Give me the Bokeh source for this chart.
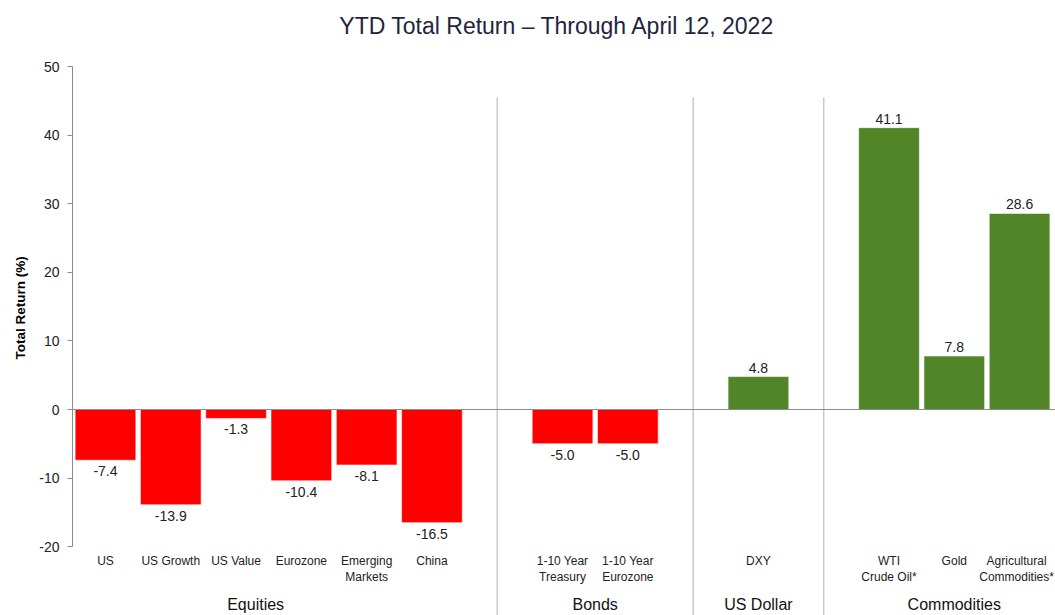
from bokeh.plotting import figure
from bokeh.models import ColumnDataSource, Span, Range1d, FixedTicker, Label, PrintfTickFormatter
from bokeh.core.properties import value
from bokeh.embed import file_html
from bokeh.resources import INLINE

# ---- data ----
groups = ["Equities", "Bonds", "US Dollar", "Commodities"]
group_cats = [
    ["US", "US Growth", "US Value", "Eurozone", "Emerging\nMarkets", "China"],
    ["1-10 Year\nTreasury", "1-10 Year\nEurozone"],
    ["DXY"],
    ["WTI\nCrude Oil*", "Gold", "Agricultural\nCommodities*"],
]
group_values = [
    [-7.4, -13.9, -1.3, -10.4, -8.1, -16.5],
    [-5.0, -5.0],
    [4.8],
    [41.1, 7.8, 28.6],
]
y_ticks = [-20, -10, 0, 10, 20, 30, 40, 50]
title_text = "YTD Total Return \u2013 Through April 12, 2022"

FONT = "Liberation Sans"
RED = "#ff0000"
GREEN = "#528428"

# ---- layout: one empty slot between groups ----
xs, cats, vals, seps, gcent = [], [], [], [], []
pos = 0
for gi, (cs, vs) in enumerate(zip(group_cats, group_values)):
    start = pos
    for c, v in zip(cs, vs):
        xs.append(pos); cats.append(c); vals.append(v)
        pos += 1
    gcent.append((start + pos - 1) / 2)
    if gi < len(groups) - 1:
        seps.append(pos)
        pos += 1
gcent[0] -= 0.2

colors = [GREEN if v >= 0 else RED for v in vals]
labels = [f"{v:.1f}" for v in vals]
cat_dx = [0] * (len(cats) - 1) + [-3]   # keep the last label inside the page
pos_idx = [i for i, v in enumerate(vals) if v >= 0]
neg_idx = [i for i, v in enumerate(vals) if v < 0]

src = ColumnDataSource(dict(x=xs, top=vals, color=colors, cat=cats, lab=labels, dx=cat_dx))
src_pos = ColumnDataSource(dict(x=[xs[i] for i in pos_idx], y=[vals[i] for i in pos_idx], lab=[labels[i] for i in pos_idx]))
src_neg = ColumnDataSource(dict(x=[xs[i] for i in neg_idx], y=[vals[i] for i in neg_idx], lab=[labels[i] for i in neg_idx]))

px_per_unit = 480 / 70.0
y_top = 409 / px_per_unit
y_bot = -206 / px_per_unit

p = figure(width=1055, height=615, output_backend="svg", toolbar_location=None,
           x_range=Range1d(-0.505, 14.55), y_range=Range1d(y_bot, y_top),
           x_axis_location=None, min_border_left=72, min_border_right=0,
           min_border_top=0, min_border_bottom=0, outline_line_color=None,
           background_fill_color="white", border_fill_color="white")
p.grid.visible = False

# separators
p.segment(x0=seps, x1=seps, y0=[45.5] * len(seps), y1=[y_bot] * len(seps),
          line_color="#c8c8c8", line_width=1.5)

# bars
p.vbar(x="x", top="top", bottom=0, width=0.93, fill_color="color",
       line_color="white", line_width=0.6, source=src)

# zero line
p.add_layout(Span(location=0, dimension="width", line_color="#8c8c8c", line_width=1))

# value labels
p.text(x="x", y="y", text="lab", source=src_pos, text_align="center", text_baseline="bottom",
       y_offset=-4, text_font=value(FONT), text_font_size="14px", text_color="#222222")
p.text(x="x", y="y", text="lab", source=src_neg, text_align="center", text_baseline="top",
       y_offset=6, text_font=value(FONT), text_font_size="14px", text_color="#222222")

# category labels
p.text(x="x", y=y_ticks[0], text="cat", source=src, text_align="center", text_baseline="top",
       x_offset="dx", y_offset=7, text_font=value(FONT), text_font_size="12px",
       text_color="#222222", text_line_height=1.15)

# group labels
p.text(x=gcent, y=[y_ticks[0]] * len(groups), text=groups, text_align="center",
       text_baseline="middle", y_offset=58, text_font=value(FONT),
       text_font_size="16px", text_color="#111111")

# title
p.add_layout(Label(x=6.92, y=56.0, text=title_text, text_align="center",
                   text_baseline="middle", text_font=FONT, text_font_size="23px",
                   text_color="#1f2440"))

# y axis
ax = p.yaxis[0]
ax.ticker = FixedTicker(ticks=y_ticks)
ax.formatter = PrintfTickFormatter(format="%d")
ax.bounds = (y_ticks[0], y_ticks[-1])
ax.axis_label = "Total Return (%)"
ax.axis_label_text_font = FONT
ax.axis_label_text_font_size = "13.5px"
ax.axis_label_text_font_style = "bold"
ax.axis_label_text_color = "#000000"
ax.axis_label_standoff = 8
ax.major_label_text_font = FONT
ax.major_label_text_font_size = "14px"
ax.major_label_text_color = "#222222"
ax.major_label_standoff = 8
ax.axis_line_color = "#8c8c8c"
ax.major_tick_line_color = "#8c8c8c"
ax.major_tick_out = 5
ax.major_tick_in = 0
ax.minor_tick_line_color = None

open("out.html", "w").write(file_html(p, INLINE))
